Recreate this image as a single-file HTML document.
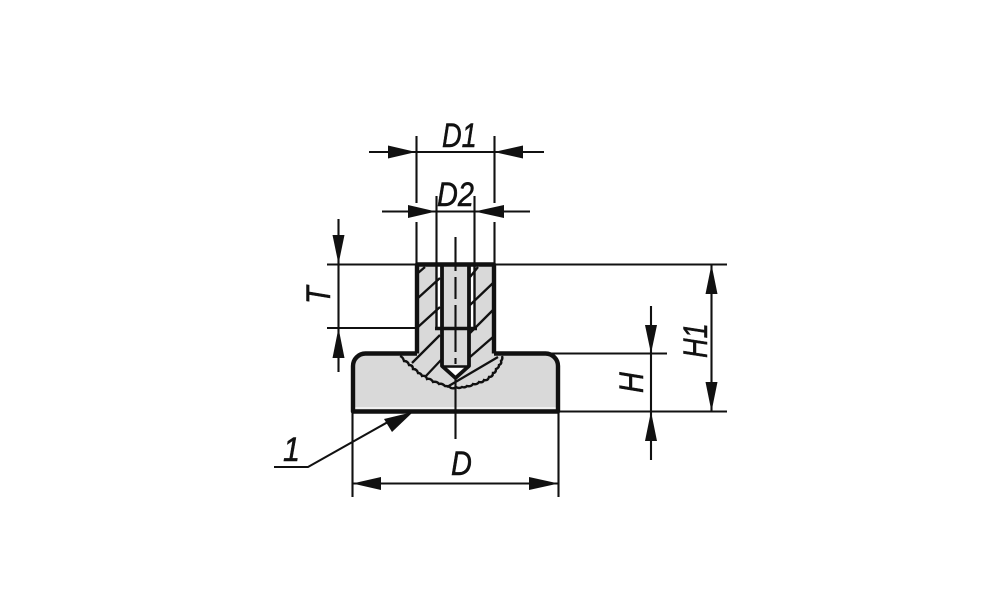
<!DOCTYPE html>
<html>
<head>
<meta charset="utf-8">
<style>
html,body{margin:0;padding:0;background:#fff;width:1000px;height:611px;overflow:hidden}
svg{display:block}
text{font-family:"Liberation Sans",sans-serif;font-style:italic;font-size:34px;fill:#111;stroke:#111;stroke-width:.5px}
</style>
</head>
<body>
<svg width="1000" height="611" viewBox="0 0 1000 611" xmlns="http://www.w3.org/2000/svg">
<rect width="1000" height="611" fill="#fff"/>
<!-- body fill -->
<path d="M353 411.500V366A12.500 12.500 0 0 1 365.500 353.500H417V264.500H494V353.500H545.500A12.500 12.500 0 0 1 558 366V411.500Z" fill="#d9d9d9"/>
<rect x="355" y="407" width="201" height="2" fill="#f0f0f0"/>
<rect x="437" y="266" width="5" height="62" fill="#fff"/>
<rect x="469" y="266" width="5" height="62" fill="#fff"/>
<!-- break line -->
<path d="M400 356q3 1 4 5q4 0 5 4q4 0 4 4q4 0 5 4q3 0 4 3q4-1 5 3q4-1 6 3q4-1 6 2q3-1 6 2q4 0 6 2q3 1 5-1q3 2 6 0q3 1 5-1q4 1 6-2q4 1 6-2q4 1 5-2q4 1 5-3q4 0 4-4q3 0 3-4q3-1 3-4q3-1 2-4q2-2 1-5" fill="none" stroke="#111" stroke-width="2.400"/>
<!-- hatch -->
<g stroke="#111" stroke-width="2.300" fill="none">
<path d="M418 273L425 267M418 298L440 278M418 327L440 307M412 363L440 335M425 377L441 360"/>
<path d="M470 277L478 267M470 305L493 283M470 333L493 310M470 357L493 337M447 387L498 357"/>
</g>
<!-- bore fill -->
<path d="M442 266H469V367L455.500 379L442 367Z" fill="#d9d9d9"/>
<path d="M448 368H463L455.500 376Z" fill="#fff"/>
<!-- thick outlines -->
<g stroke="#111" fill="none" stroke-width="4.400" stroke-linejoin="round">
<path d="M417 353.500V264.500H494V353.500"/>
<path d="M400 353.500H365.500A12.500 12.500 0 0 0 353 366V411.500H558V366A12.500 12.500 0 0 0 545.500 353.500H511"/>
<path d="M400 353.500H417M494 353.500H511"/>
<path d="M442 266V366L455.500 378L469 366V266" stroke-width="3.800"/>
</g>
<path d="M436.500 265V328M474.500 265V328" stroke="#111" stroke-width="2.400" fill="none"/>
<path d="M435 328.500H477" stroke="#111" stroke-width="3.400" fill="none"/>
<path d="M443 366.500H468" stroke="#111" stroke-width="2.600" fill="none"/>
<!-- thin lines -->
<g stroke="#111" stroke-width="2.100" fill="none">
<path d="M369 152H544M382 211.500H530"/>
<path d="M416.500 136V203M416.500 222V264M494.500 136V203M494.500 222V264"/>
<path d="M436.500 196V264M474.500 196V264"/>
<path d="M327 264.500H416M495 264.500H727M327 328H418"/>
<path d="M495 353.500H667M353 411.500H727"/>
<path d="M338.500 219V372M651 306V460M711.500 265V411"/>
<path d="M352.500 412V497M558.500 412V497M353 483.500H558"/>
<path d="M274 467H308L395 418"/>
<path d="M455.500 237V271M455.500 277V299M455.500 305V352M455.500 358V364M455.500 378V439"/>
</g>
<!-- arrowheads -->
<g fill="#111">
<path d="M416 152L388 145.500V158.500Z"/>
<path d="M494 152L523 145.500V158.500Z"/>
<path d="M436 211.500L408 205V218Z"/>
<path d="M474.500 211.500L504 205V218Z"/>
<path d="M338.500 264L332.500 235H344.500Z"/>
<path d="M338.500 328L332.500 358H344.500Z"/>
<path d="M651 353.500L645 325H657Z"/>
<path d="M651 411.500L645 441H657Z"/>
<path d="M711.500 264.500L705.500 294H717.500Z"/>
<path d="M711.500 411.500L705.500 382H717.500Z"/>
<path d="M352.500 483.500L381 477V490Z"/>
<path d="M558.500 483.500L529 477V490Z"/>
<path d="M413 412L384 419L392 432Z"/>
</g>
<!-- labels -->
<text transform="translate(442 147) scale(.8 1)">D1</text>
<text transform="translate(437 206) scale(.85 1)">D2</text>
<text transform="translate(451 475) scale(.85 1)">D</text>
<text transform="translate(283 461) scale(.9 1)">1</text>
<text transform="translate(330 304) rotate(-90) scale(.85 1)">T</text>
<text transform="translate(643 393) rotate(-90) scale(.85 1)">H</text>
<text transform="translate(707 358) rotate(-90) scale(.8 1)">H1</text>
</svg>
</body>
</html>
